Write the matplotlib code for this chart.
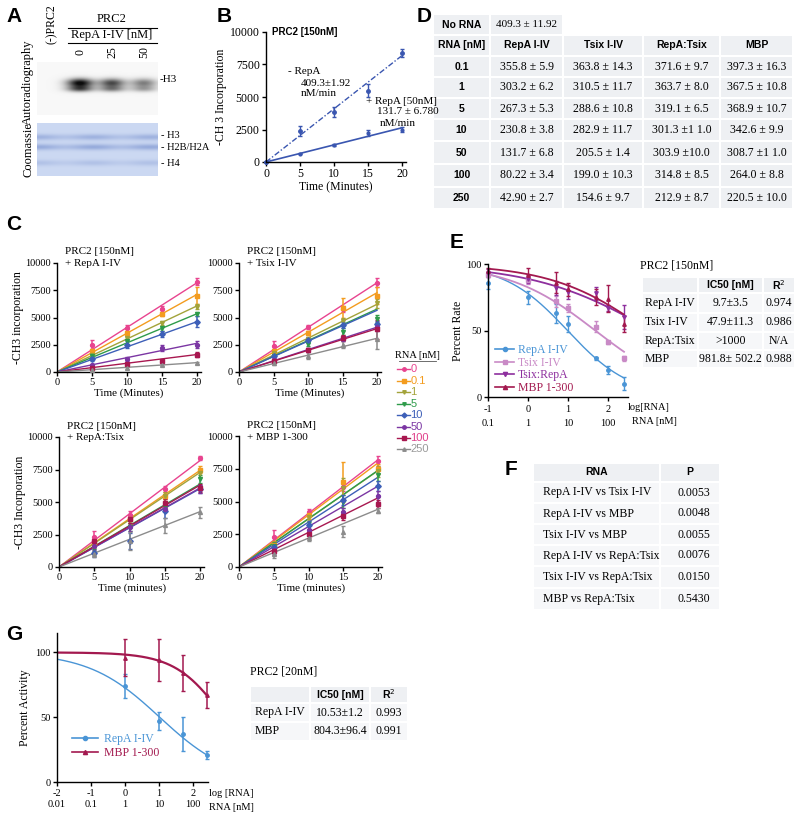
import numpy as np
import matplotlib
matplotlib.use('Agg')
import matplotlib.pyplot as plt
from matplotlib.patches import Rectangle
from matplotlib.lines import Line2D

W, H = 800, 819
SERIF = 'Liberation Serif'
SANS = 'Liberation Sans'

# ---------------- data ----------------
# Panel A (blot)
blot_lanes = ['(-)PRC2', '0', '25', '50']
blot_h3_intensity = [0.0, 1.0, 0.72, 0.5]
coomassie_bands = ['H3', 'H2B/H2A', 'H4']

# Panel B
b_time = [0, 5, 10, 15, 20]
b_norna = [0, 2400, 3850, 5500, 8400]
b_norna_err = [0, 400, 400, 500, 300]
b_repa = [0, 650, 1300, 2250, 2500]
b_repa_err = [0, 60, 80, 250, 200]
b_rate_norna = 409.3
b_rate_repa = 131.7

# Panel D table
d_rna = ['0.1', '1', '5', '10', '50', '100', '250']
d_cols = ['RepA I-IV', 'Tsix I-IV', 'RepA:Tsix', 'MBP']
d_cells = [
    ['355.8 ± 5.9', '363.8 ± 14.3', '371.6 ± 9.7', '397.3 ± 16.3'],
    ['303.2 ± 6.2', '310.5 ± 11.7', '363.7 ± 8.0', '367.5 ± 10.8'],
    ['267.3 ± 5.3', '288.6 ± 10.8', '319.1 ± 6.5', '368.9 ± 10.7'],
    ['230.8 ± 3.8', '282.9 ± 11.7', '301.3 ±1 1.0', '342.6 ± 9.9'],
    ['131.7 ± 6.8', '205.5 ± 1.4', '303.9 ±10.0', '308.7 ±1 1.0'],
    ['80.22 ± 3.4', '199.0 ± 10.3', '314.8 ± 8.5', '264.0 ± 8.8'],
    ['42.90 ± 2.7', '154.6 ± 9.7', '212.9 ± 8.7', '220.5 ± 10.0'],
]
rate_norna = 409.3
rate_repa = [355.8, 303.2, 267.3, 230.8, 131.7, 80.22, 42.90]
rate_tsix = [363.8, 310.5, 288.6, 282.9, 205.5, 199.0, 154.6]
rate_repatsix = [371.6, 363.7, 319.1, 301.3, 303.9, 314.8, 212.9]
rate_mbp = [397.3, 367.5, 368.9, 342.6, 308.7, 264.0, 220.5]

# Panel C
c_time = [5, 10, 15, 20]
c_conc = ['0', '0.1', '1', '5', '10', '50', '100', '250']
c_colors = ['#e8448f', '#f39c1f', '#a3a33a', '#2e9b4a', '#3d5fb8', '#7b36a3', '#a8174f', '#8c8c8c']
c_textcolors = ['#e8448f', '#f39c1f', '#a3a33a', '#2e9b4a', '#3d5fb8', '#7b36a3', '#e0408a', '#9a9a9a']
c_markers = ['o', 's', 'v', 'v', 'D', 'o', 's', '^']

c_repa_pts = [[2500, 4000, 5800, 8300], [1900, 3600, 5300, 7000], [1600, 3100, 4500, 6000],
              [1500, 2800, 4000, 5300], [1200, 2500, 3500, 4600], [600, 1200, 2200, 2500],
              [350, 750, 1000, 1600], [200, 400, 650, 800]]
c_repa_err = [[400, 300, 300, 300], [200, 300, 200, 800], [150, 200, 200, 200], [150, 200, 200, 200],
              [150, 300, 300, 500], [100, 200, 300, 300], [80, 100, 100, 250], [50, 80, 80, 80]]
c_tsix_pts = [[2400, 4100, 5800, 8200], [1900, 3600, 5900, 7000], [1700, 3000, 4700, 6300],
              [1500, 2600, 3700, 4900], [1500, 2900, 4300, 4400], [1100, 2000, 3000, 4100],
              [1000, 2000, 3100, 3900], [800, 1500, 2500, 3000]]
c_tsix_err = [[400, 200, 300, 400], [200, 200, 900, 800], [150, 200, 300, 400], [150, 200, 300, 300],
              [100, 200, 300, 300], [150, 200, 200, 300], [150, 200, 300, 900], [150, 300, 300, 900]]
c_rt_pts = [[2300, 4000, 6000, 8400], [1800, 3700, 5500, 7500], [1700, 3600, 5500, 7200],
            [1500, 3100, 4600, 6800], [1100, 2000, 4300, 6000], [1600, 3100, 4500, 6000],
            [2000, 3700, 4900, 6100], [1000, 2000, 3200, 4200]]
c_rt_err = [[500, 300, 200, 150], [300, 300, 300, 300], [300, 300, 300, 300], [300, 300, 300, 300],
            [300, 600, 500, 300], [300, 300, 300, 300], [300, 300, 300, 300], [200, 700, 600, 400]]
c_mbp_pts = [[2300, 4200, 6100, 8100], [1700, 4000, 6500, 7500], [1600, 3800, 6000, 7300],
             [1600, 3100, 5000, 7000], [1500, 3200, 5100, 6200], [1300, 2800, 4200, 5400],
             [1200, 2500, 3900, 4800], [1000, 2200, 2700, 4300]]
c_mbp_err = [[500, 200, 300, 400], [300, 300, 1500, 400], [300, 300, 800, 400], [300, 300, 500, 400],
             [300, 300, 400, 400], [300, 300, 300, 400], [300, 300, 300, 300], [300, 200, 400, 200]]

# Panel E
e_logx = [-1, 0, 0.7, 1, 1.7, 2, 2.4]
e_names = ['RepA I-IV', 'Tsix I-IV', 'Tsix:RepA', 'MBP 1-300']
e_colors = ['#4a95d6', '#c98ac6', '#8e2f9e', '#a3194f']
e_markers = ['o', 's', 'v', '^']
e_vals = [[86, 75, 63, 55, 29, 20, 10],
          [92, 88, 72, 67, 53, 41, 29],
          [93, 89, 82, 79, 78, 67, 60],
          [95, 92, 86, 81, 75, 74, 55]]
e_errs = [[5, 5, 7, 6, 1, 3, 5],
          [2, 3, 4, 3, 4, 1, 2],
          [3, 3, 5, 5, 5, 2, 9],
          [2, 5, 8, 5, 6, 10, 6]]
e_log_ic50 = [0.987, 1.68, 3.1, 2.99]
e_hill = [0.55, 0.40, 0.29, 0.36]
e_table = [['RepA I-IV', '9.7±3.5', '0.974'],
           ['Tsix I-IV', '47.9±11.3', '0.986'],
           ['RepA:Tsix', '>1000', 'N/A'],
           ['MBP', '981.8± 502.2', '0.988']]
e_xticks = [-1, 0, 1, 2]
e_xnm = ['0.1', '1', '10', '100']

# Panel F
f_rows = [['RepA I-IV vs Tsix I-IV', '0.0053'],
          ['RepA I-IV vs MBP', '0.0048'],
          ['Tsix I-IV vs MBP', '0.0055'],
          ['RepA I-IV vs RepA:Tsix', '0.0076'],
          ['Tsix I-IV vs RepA:Tsix', '0.0150'],
          ['MBP vs RepA:Tsix', '0.5430']]

# Panel G
g_logx = [0, 1, 1.7, 2.4]
g_names = ['RepA I-IV', 'MBP 1-300']
g_colors = ['#4a95d6', '#a3194f']
g_markers = ['o', '^']
g_vals = [[74, 47, 37, 21], [96, 94, 84, 67]]
g_errs = [[9, 7, 13, 3], [14, 16, 14, 10]]
g_log_ic50 = [1.02, 2.905]
g_hill = [0.417, 0.61]
g_table = [['RepA I-IV', '10.53±1.2', '0.993'],
           ['MBP', '804.3±96.4', '0.991']]
g_xticks = [-2, -1, 0, 1, 2]
g_xnm = ['0.01', '0.1', '1', '10', '100']

# ---------------- helpers ----------------
fig = plt.figure(figsize=(W / 100, H / 100), dpi=100)


def T(x, y, s, **kw):
    kw.setdefault('va', 'center')
    kw.setdefault('family', SERIF)
    kw.setdefault('fontsize', 8)
    return fig.text(x / W, 1 - y / H, s, **kw)


def AX(x0, y0, x1, y1):
    return fig.add_axes([x0 / W, 1 - y1 / H, (x1 - x0) / W, (y1 - y0) / H])


def HL(x0, x1, y, lw=0.8, color='black'):
    fig.add_artist(Line2D([x0 / W, x1 / W], [1 - y / H, 1 - y / H], color=color, lw=lw,
                          transform=fig.transFigure))


def cell(x0, y0, x1, y1, color='#eef0f3'):
    fig.add_artist(Rectangle(((x0 + 1) / W, 1 - (y1 - 1) / H), (x1 - x0 - 2) / W, (y1 - y0 - 2) / H,
                             transform=fig.transFigure, fc=color, ec='none', zorder=0))


def style_axes(ax, fs=6.5):
    for s in ['top', 'right']:
        ax.spines[s].set_visible(False)
    for s in ['left', 'bottom']:
        ax.spines[s].set_linewidth(1.0)
    ax.tick_params(direction='out', length=3, width=1, labelsize=fs, pad=1.5)
    for lab in ax.get_xticklabels() + ax.get_yticklabels():
        lab.set_family(SERIF)


def panel_letter(x, y, s):
    T(x, y, s, family=SANS, fontsize=15, fontweight='bold', ha='center')


def logistic(x, logic50, hill):
    return 100.0 / (1 + 10 ** ((x - logic50) * hill))


# ---------------- Panel A ----------------
panel_letter(14, 16, 'A')
lane_x = [52, 80, 112, 144]
ax = AX(37, 62, 158, 115)
xs = np.linspace(37, 158, 242)
ys = np.linspace(62, 115, 106)
X, Y = np.meshgrid(xs, ys)
img = np.full_like(X, 0.97)
for cx, inten in zip(lane_x, blot_h3_intensity):
    b1 = inten * np.exp(-((X - cx) / 13) ** 2 - ((Y - 83) / 4.5) ** 2)
    b2 = 0.6 * inten * np.exp(-((X - cx) / 13) ** 2 - ((Y - 89) / 3) ** 2)
    img -= 0.95 * (b1 + b2)
img = np.clip(img, 0.05, 1)
ax.imshow(img, cmap='gray', vmin=0, vmax=1, extent=(37, 158, 115, 62), aspect='auto')
ax.axis('off')

ax = AX(37, 123, 158, 176)
ys2 = np.linspace(123, 176, 106)
X2, Y2 = np.meshgrid(xs, ys2)
base = np.zeros(X2.shape + (3,))
base[..., 0], base[..., 1], base[..., 2] = 0.80, 0.85, 0.95
dark = np.zeros_like(X2)
for yc, amp in [(137, 0.5), (147, 0.6), (163, 0.3)]:
    dark += amp * np.exp(-((Y2 - yc) / 3) ** 2)
dark *= 0.8 + 0.2 * np.cos((X2 - 37) / 9)
rgb = base - dark[..., None] * np.array([0.35, 0.30, 0.15])
ax.imshow(np.clip(rgb, 0, 1), extent=(37, 158, 176, 123), aspect='auto')
ax.axis('off')

T(28, 82, 'Autoradiography', rotation=90, ha='center', fontsize=9)
T(28, 150, 'Coomassie', rotation=90, ha='center', fontsize=9)
T(lane_x[0], 24, blot_lanes[0], rotation=90, ha='center', fontsize=8.5)
for lx, lab in zip(lane_x[1:], blot_lanes[1:]):
    T(lx, 52, lab, rotation=90, ha='center', fontsize=8.5)
T(112, 19, 'PRC2', ha='center', fontsize=9)
HL(68, 157, 28)
T(112, 35, 'RepA I-IV [nM]', ha='center', fontsize=9)
HL(68, 157, 43)
T(160, 80, '-H3', ha='left', fontsize=8)
for yy, lab in zip([136, 147, 163], coomassie_bands):
    T(161, yy, '- ' + lab, ha='left', fontsize=7.5)

# ---------------- Panel B ----------------
panel_letter(224, 16, 'B')
ax = AX(266, 32, 266 + 6.8 * 20.6, 162)
ax.set_xlim(0, 20.6)
ax.set_ylim(0, 10000)
bc = '#3a56b0'
ax.plot([0, 20], [0, b_rate_norna * 20], color=bc, lw=1, ls=(0, (4, 1.5, 1, 1.5)))
ax.plot([0, 20], [0, b_rate_repa * 20], color=bc, lw=1.2)
ax.errorbar(b_time, b_norna, yerr=b_norna_err, fmt='o', ms=2.5, color=bc, capsize=1.5, elinewidth=1, clip_on=False)
ax.errorbar(b_time, b_repa, yerr=b_repa_err, fmt='o', ms=2, color=bc, capsize=1.5, elinewidth=1, clip_on=False)
ax.set_xticks([0, 5, 10, 15, 20])
ax.set_yticks([0, 2500, 5000, 7500, 10000])
style_axes(ax, fs=8.5)
ax.set_xlabel('Time (Minutes)', family=SERIF, fontsize=8.5, labelpad=1)
ax.set_ylabel('-CH 3 Incorporation', family=SERIF, fontsize=8.5, labelpad=2)
T(272, 32, 'PRC2 [150nM]', family=SANS, fontweight='bold', fontsize=7, ha='left')
T(288, 72, '- RepA', ha='left', fontsize=8)
T(301, 83, '409.3±1.92', ha='left', fontsize=8)
T(301, 94, 'nM/min', ha='left', fontsize=8)
T(366, 101, '+ RepA [50nM]', ha='left', fontsize=8)
T(377, 112, '131.7 ± 6.780', ha='left', fontsize=8)
T(380, 123, 'nM/min', ha='left', fontsize=8)

# ---------------- Panel D ----------------
panel_letter(424, 16, 'D')
dx = [433, 490, 563, 643, 720, 793]
cell(433, 14, 490, 35)
cell(490, 14, 563, 35)
T(461.5, 24.5, 'No RNA', family=SANS, fontweight='bold', fontsize=7.5, ha='center')
T(526.5, 24.5, '409.3 ± 11.92', ha='center', fontsize=8)
dy = [35, 56, 77, 98, 119, 141, 164, 187, 209]
header = ['RNA [nM]'] + d_cols
for j in range(5):
    cell(dx[j], dy[0], dx[j + 1], dy[1])
    T((dx[j] + dx[j + 1]) / 2, (dy[0] + dy[1]) / 2, header[j], family=SANS, fontweight='bold',
      fontsize=7.5, ha='center')
for i, r in enumerate(d_rna):
    y0, y1 = dy[i + 1], dy[i + 2]
    cell(dx[0], y0, dx[1], y1)
    T((dx[0] + dx[1]) / 2, (y0 + y1) / 2, r, family=SANS, fontweight='bold', fontsize=7.5, ha='center')
    for j in range(4):
        cell(dx[j + 1], y0, dx[j + 2], y1)
        T((dx[j + 1] + dx[j + 2]) / 2, (y0 + y1) / 2, d_cells[i][j], fontsize=8.5, ha='center')

# ---------------- Panel C ----------------
panel_letter(14, 224, 'C')
c_panels = [
    ((57, 263, 7.0, 372), [rate_norna] + rate_repa, c_repa_pts, c_repa_err, '+ RepA I-IV',
     '-CH3 incorporation', 'Time (Minutes)'),
    ((239, 263, 6.9, 372), [rate_norna] + rate_tsix, c_tsix_pts, c_tsix_err, '+ Tsix I-IV',
     None, 'Time (Minutes)'),
    ((59, 437, 7.05, 567), [rate_norna] + rate_repatsix, c_rt_pts, c_rt_err, '+ RepA:Tsix',
     '-CH3 Incorporation', 'Time (minutes)'),
    ((239, 436, 6.95, 567), [rate_norna] + rate_mbp, c_mbp_pts, c_mbp_err, '+ MBP 1-300',
     None, 'Time (minutes)'),
]
for (x0, ytop, sc, ybot), rates, pts, errs, sub, ylab, xlab in c_panels:
    ax = AX(x0, ytop, x0 + sc * 20.6, ybot)
    ax.set_xlim(0, 20.6)
    ax.set_ylim(0, 10000)
    for k in range(8):
        ax.plot([0, 20], [0, rates[k] * 20], color=c_colors[k], lw=1.0, zorder=2)
        ax.errorbar(c_time, pts[k], yerr=errs[k], fmt=c_markers[k], ms=2.8, color=c_colors[k],
                    capsize=1.5, elinewidth=1.1, clip_on=False, zorder=3)
    ax.set_xticks([0, 5, 10, 15, 20])
    ax.set_yticks([0, 2500, 5000, 7500, 10000])
    style_axes(ax, fs=7.5)
    ax.set_xlabel(xlab, family=SERIF, fontsize=8, labelpad=1)
    if ylab:
        ax.set_ylabel(ylab, family=SERIF, fontsize=8.5, labelpad=1)
    T(x0 + 8, ytop - 11, 'PRC2 [150nM]', ha='left', fontsize=8)
    T(x0 + 8, ytop + 1, sub, ha='left', fontsize=8)

# C legend
lg = AX(390, 345, 445, 455)
lg.set_xlim(390, 445)
lg.set_ylim(455, 345)
lg.axis('off')
T(417, 355, 'RNA [nM]', ha='center', fontsize=7.5)
HL(399, 436, 361, lw=0.6, color='#555555')
leg_y = [369, 381, 392, 404, 415, 427, 438, 449]
for k in range(8):
    lg.plot([397, 410], [leg_y[k], leg_y[k]], color=c_colors[k], lw=1)
    lg.plot([403.5], [leg_y[k]], marker=c_markers[k], ms=2.5, color=c_colors[k])
    T(410.5, leg_y[k], c_conc[k], family=SANS, fontsize=8, ha='left', color=c_textcolors[k])

# ---------------- Panel E ----------------
panel_letter(457, 243, 'E')
e_px = 40.0
ax = AX(488, 264, 488 + e_px * 3.5, 397)
ax.set_xlim(-1, 2.5)
ax.set_ylim(0, 100)
xx = np.linspace(-1, 2.4, 200)
for k in range(4):
    ax.plot(xx, logistic(xx, e_log_ic50[k], e_hill[k]), color=e_colors[k], lw=1.3 if k != 0 else 1.0)
    ax.errorbar(e_logx, e_vals[k], yerr=e_errs[k], fmt=e_markers[k], ms=2.5, color=e_colors[k],
                capsize=1.5, elinewidth=1, clip_on=False)
ax.set_xticks(e_xticks)
ax.set_xticklabels([f'{a}\n{b}' for a, b in zip(e_xticks, e_xnm)])
ax.set_yticks([0, 50, 100])
style_axes(ax, fs=7.5)
ax.tick_params(axis='x', pad=3)
for lab in ax.get_xticklabels():
    lab.set_linespacing(1.6)
T(628, 407, 'log[RNA]', ha='left', fontsize=7.5)
T(632, 422, 'RNA [nM]', ha='left', fontsize=7.5)
ax.set_ylabel('Percent Rate', family=SERIF, fontsize=8.5, labelpad=2)
e_handles = [Line2D([], [], color=c, marker=m, ms=3, lw=1.2) for c, m in zip(e_colors, e_markers)]
ax.legend(e_handles, e_names, loc='lower left', bbox_to_anchor=(0.0, -0.03), frameon=False,
          handlelength=1.6, labelspacing=0.05, borderaxespad=0.2, prop={'family': SERIF, 'size': 8.5},
          labelcolor=e_colors, handletextpad=0.3)

T(640, 266, 'PRC2 [150nM]', ha='left', fontsize=8.5)
ex = [642, 698, 763, 795]
ey = [277, 293, 313, 332, 350, 368]
ehead = ['', 'IC50 [nM]', 'R$^2$']
for j in range(3):
    cell(ex[j], ey[0], ex[j + 1], ey[1])
    T((ex[j] + ex[j + 1]) / 2, (ey[0] + ey[1]) / 2, ehead[j], family=SANS, fontweight='bold',
      fontsize=7.5, ha='center')
for i, row in enumerate(e_table):
    y0, y1 = ey[i + 1], ey[i + 2]
    for j in range(3):
        cell(ex[j], y0, ex[j + 1], y1, color='#f6f7f9')
    T(ex[0] + 3, (y0 + y1) / 2, row[0], ha='left', fontsize=8.5)
    T((ex[1] + ex[2]) / 2, (y0 + y1) / 2, row[1], ha='center', fontsize=8.5)
    T((ex[2] + ex[3]) / 2, (y0 + y1) / 2, row[2], ha='center', fontsize=8.5)

# ---------------- Panel F ----------------
panel_letter(511, 470, 'F')
fx = [533, 660, 720]
fy = [463, 482, 503, 524, 545, 566, 588, 610]
for j, hd in enumerate(['RNA', 'P']):
    cell(fx[j], fy[0], fx[j + 1], fy[1])
    T((fx[j] + fx[j + 1]) / 2, (fy[0] + fy[1]) / 2, hd, family=SANS, fontweight='bold', fontsize=7.5,
      ha='center')
for i, (nm, p) in enumerate(f_rows):
    y0, y1 = fy[i + 1], fy[i + 2]
    cell(fx[0], y0, fx[1], y1, color='#f6f7f9')
    cell(fx[1], y0, fx[2], y1, color='#f6f7f9')
    T(fx[0] + 10, (y0 + y1) / 2, nm, ha='left', fontsize=8.5)
    T(fx[2] - 10, (y0 + y1) / 2, p, ha='right', fontsize=8.5)

# ---------------- Panel G ----------------
panel_letter(14, 634, 'G')
g_px = 34.0
ax = AX(57, 633, 57 + g_px * 4.45, 782)
ax.set_xlim(-2, 2.45)
ax.set_ylim(0, 115)
xx = np.linspace(-2, 2.4, 200)
for k in range(2):
    ax.plot(xx, logistic(xx, g_log_ic50[k], g_hill[k]), color=g_colors[k], lw=1.0 if k == 0 else 1.6)
    ax.errorbar(g_logx, g_vals[k], yerr=g_errs[k], fmt=g_markers[k], ms=2.5, color=g_colors[k],
                capsize=1.5, elinewidth=1.1, clip_on=False)
ax.set_xticks(g_xticks)
ax.set_xticklabels([f'{a}\n{b}' for a, b in zip(g_xticks, g_xnm)])
ax.set_yticks([0, 50, 100])
style_axes(ax, fs=7.5)
ax.tick_params(axis='x', pad=2)
for lab in ax.get_xticklabels():
    lab.set_linespacing(1.35)
T(209, 794, 'log [RNA]', ha='left', fontsize=7.5)
T(209, 808, 'RNA [nM]', ha='left', fontsize=7.5)
ax.set_ylabel('Percent Activity', family=SERIF, fontsize=8.5, labelpad=3)
g_handles = [Line2D([], [], color=c, marker=m, ms=3, lw=1.2) for c, m in zip(g_colors, g_markers)]
ax.legend(g_handles, g_names, loc='lower left', bbox_to_anchor=(0.03, 0.08), frameon=False,
          handlelength=2.2, labelspacing=0.2, prop={'family': SERIF, 'size': 8.5},
          labelcolor=g_colors, handletextpad=0.5)

T(250, 672, 'PRC2 [20nM]', ha='left', fontsize=8.5)
gx = [250, 310, 370, 408]
gy = [686, 703, 722, 741]
for j, hd in enumerate(['', 'IC50 [nM]', 'R$^2$']):
    cell(gx[j], gy[0], gx[j + 1], gy[1])
    T((gx[j] + gx[j + 1]) / 2, (gy[0] + gy[1]) / 2, hd, family=SANS, fontweight='bold', fontsize=7.5,
      ha='center')
for i, row in enumerate(g_table):
    y0, y1 = gy[i + 1], gy[i + 2]
    for j in range(3):
        cell(gx[j], y0, gx[j + 1], y1, color='#f6f7f9')
    T(gx[0] + 5, (y0 + y1) / 2, row[0], ha='left', fontsize=8.5)
    T((gx[1] + gx[2]) / 2, (y0 + y1) / 2, row[1], ha='center', fontsize=8.5)
    T((gx[2] + gx[3]) / 2, (y0 + y1) / 2, row[2], ha='center', fontsize=8.5)

fig.savefig('out.png', dpi=100)
